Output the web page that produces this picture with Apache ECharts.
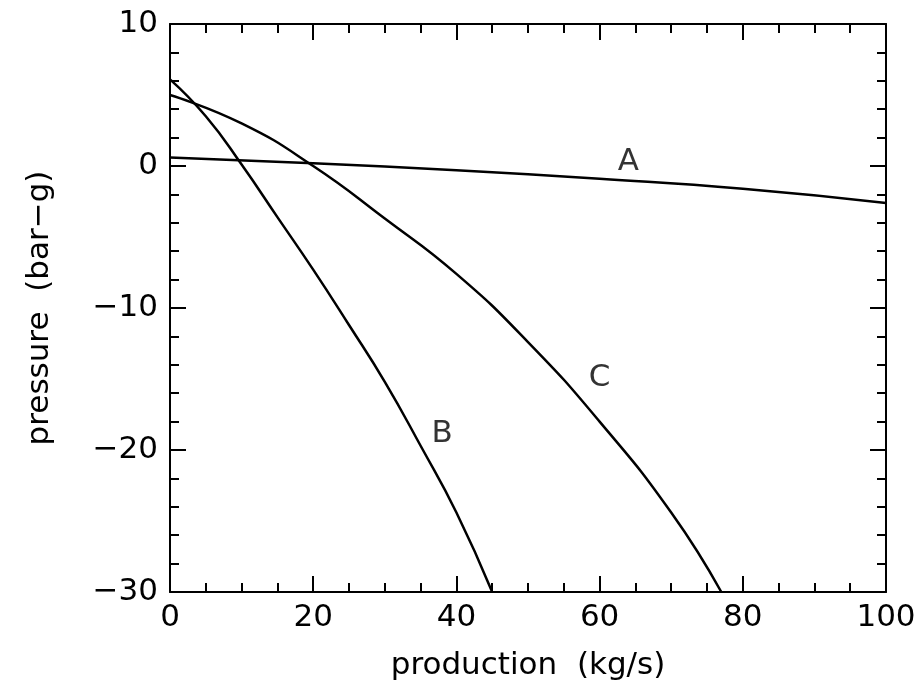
<!DOCTYPE html>
<html><head><meta charset="utf-8">
<script src="https://cdn.jsdelivr.net/npm/echarts@6/dist/echarts.min.js"></script>
<style>html,body{margin:0;background:#fff}#chart{width:921px;height:690px}</style>
</head><body><div id="chart"></div>
<script>
var curveA = [[0,0.6],[20,0.2],[40,-0.3],[60,-0.9],[80,-1.6],[100,-2.6]];
var curveB = [[0,6.1],[5,3.5],[10,0.1],[15,-3.6],[20,-7.3],[25,-11.2],[30,-15.2],[35,-19.7],[40,-24.4],[45,-30]];
var curveC = [[0,5],[10,3],[20,0],[30,-3.7],[40,-7.6],[50,-12.4],[60,-18],[70,-24.4],[77,-30]];
var labels = [['A',64,0.3],['B',38,-18.9],['C',60,-14.9]];

var font = 'DejaVu Sans';
function xAx(pos, show) {
  return {type:'value', position:pos, min:0, max:100, interval:20,
    axisLine:{show:true, onZero:false, lineStyle:{color:'#000', width:2}},
    axisTick:{show:true, inside:true, length:16, lineStyle:{color:'#000', width:2}},
    minorTick:{show:true, splitNumber:4, length:9, lineStyle:{color:'#000', width:2}},
    splitLine:{show:false},
    axisLabel:{show:show, color:'#000', fontSize:31, fontFamily:font, margin:10},
    name: show ? 'production  (kg/s)' : '', nameLocation:'middle', nameGap:58,
    nameTextStyle:{color:'#000', fontSize:31, fontFamily:font}};
}
function yAx(pos, show) {
  return {type:'value', position:pos, min:-30, max:10, interval:10,
    axisLine:{show:true, onZero:false, lineStyle:{color:'#000', width:2}},
    axisTick:{show:true, inside:true, length:16, lineStyle:{color:'#000', width:2}},
    minorTick:{show:true, splitNumber:5, length:9, lineStyle:{color:'#000', width:2}},
    splitLine:{show:false},
    axisLabel:{show:show, color:'#000', fontSize:31, fontFamily:font, margin:12,
      formatter:function(v){return v<0 ? '\u2212'+(-v) : ''+v;}},
    name: show ? 'pressure  (bar\u2212g)' : '', nameLocation:'middle', nameGap:115,
    nameTextStyle:{color:'#000', fontSize:31, fontFamily:font}};
}
function line(d){return {type:'line', data:d, smooth:true, showSymbol:false, symbol:'none',
  lineStyle:{color:'#000', width:2.5}, clip:true};}

var chart = echarts.init(document.getElementById('chart'));
chart.setOption({
  animation:false,
  grid:{left:170, right:35, top:24, bottom:98},
  xAxis:[xAx('bottom', true), xAx('top', false)],
  yAxis:[yAx('left', true), yAx('right', false)],
  series:[line(curveA), line(curveB), line(curveC),
    {type:'scatter', symbolSize:1, itemStyle:{color:'#fff'},
     data:labels.map(function(l){return {value:[l[1],l[2]], name:l[0]};}),
     label:{show:true, position:'top', distance:-16, formatter:'{t|{b}}',
       rich:{t:{color:'#000', fontSize:31, fontFamily:font}}}}]
});
</script></body></html>
